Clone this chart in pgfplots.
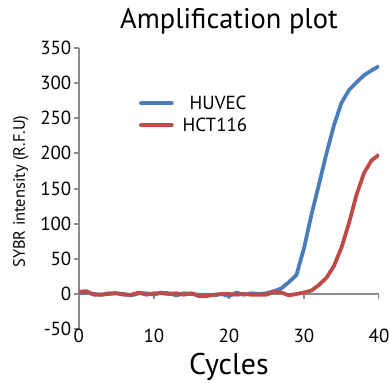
\documentclass[border=0pt]{standalone}
\usepackage{fontspec}
\setmainfont{PT Sans}
\usepackage{pgfplots}
\pgfplotsset{compat=1.18}
\definecolor{huvec}{HTML}{4A7EBB}
\definecolor{hct}{HTML}{BE4B48}
\definecolor{axgray}{HTML}{8C8C8C}

\pgfplotstableread{
x huvec hct
0 1 3
1 2 4
2 0 -1
3 -1 -1
4 1 0
5 1 1
6 0 -1
7 -2 -1
8 1 2
9 1 -1
10 -1 1
11 2 1
12 1 0
13 -2 1
14 1 -1
15 0 1
16 -1 -3
17 -1 -3
18 -2 -1
19 0 0
20 -3 0
21 2 -1
22 -1 0
23 1 -1
24 0 -1
25 1 -1
26 4 3
27 8 2
28 17 -2
29 27 0
30 65 2
31 113 5
32 156 13
33 200 23
34 240 40
35 272 66
36 290 101
37 301 141
38 311 172
39 318 190
40 324 198
}\datatable

\begin{document}
\begin{tikzpicture}
\begin{axis}[
  name=ax,
  scale only axis,
  width=301pt, height=282pt,
  xmin=0, xmax=40, ymin=-50, ymax=350,
  axis y line*=left,
  axis x line*=bottom,
  x axis line style={draw=none},
  y axis line style={axgray, line width=2.5pt},
  xtick={0,10,20,30,40},
  ytick={-50,0,50,100,150,200,250,300,350},
  xtick style={draw=none},
  ytick style={axgray, line width=2pt},
  tick align=outside,
  major tick length=5pt,
  /pgf/number format/assume math mode=true,
  ticklabel style={font=\fontsize{19}{22}\selectfont},
  xticklabel style={anchor=base, yshift=-8pt},
  yticklabel style={xshift=1pt},
  title={Amplification plot},
  title style={at={(0.5,1)}, anchor=base, yshift=13pt, font=\fontsize{28.5}{32}\selectfont},
  xlabel={Cycles},
  xlabel style={at={(0.5,0)}, anchor=base, yshift=-45pt, font=\fontsize{30}{34}\selectfont},
  legend style={at={(0.19,0.845)}, anchor=north west, draw=none, fill=none,
    font=\fontsize{19}{22}\selectfont, row sep=3pt},
  legend cell align=left,
  legend image code/.code={\draw[#1, line cap=round] (0pt,0pt) -- (31pt,0pt);},
]
\draw[axgray, line width=2.5pt] (axis cs:0,0) -- (axis cs:40,0);
\pgfplotsinvokeforeach{0,10,20,30,40}{\draw[axgray, line width=2pt] (axis cs:#1,0) -- ++(0pt,-5pt);}
\addplot[huvec, line width=3.8pt, line join=round] table[x=x, y=huvec] {\datatable};
\addlegendentry{\hspace{14pt}HUVEC}
\addplot[hct, line width=3.8pt, line join=round] table[x=x, y=hct] {\datatable};
\addlegendentry{\hspace{7pt}HCT116}
\end{axis}
\node[rotate=90, font=\fontsize{16.5}{20}\selectfont] at ([shift={(-58pt,-3pt)}]ax.west) {SYBR intensity (R.F.U)};
\pgfresetboundingbox
\path ([shift={(-79pt,-53pt)}]ax.south west) rectangle ([shift={(10pt,48pt)}]ax.north east);
\end{tikzpicture}
\end{document}
